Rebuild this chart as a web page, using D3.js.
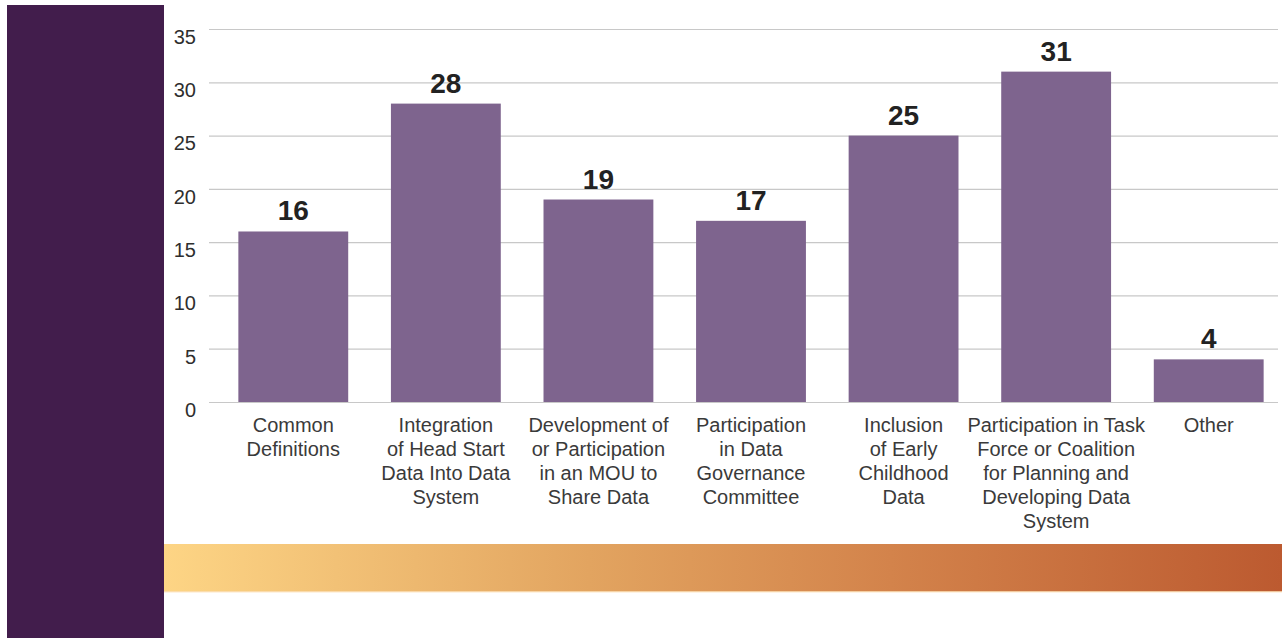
<!DOCTYPE html>
<html>
<head>
<meta charset="utf-8">
<script src="https://cdn.jsdelivr.net/npm/d3@7"></script>
<style>
  body { margin: 0; background: #fff; }
  svg text { font-family: "Liberation Sans", Arial, sans-serif; }
</style>
</head>
<body>
<svg id="chart"></svg>
<script>
const categories = [
  "Common\nDefinitions",
  "Integration\nof Head Start\nData Into Data\nSystem",
  "Development of\nor Participation\nin an MOU to\nShare Data",
  "Participation\nin Data\nGovernance\nCommittee",
  "Inclusion\nof Early\nChildhood\nData",
  "Participation in Task\nForce or Coalition\nfor Planning and\nDeveloping Data\nSystem",
  "Other"
];
const values = [16, 28, 19, 17, 25, 31, 4];
const yTicks = [0, 5, 10, 15, 20, 25, 30, 35];

const w = 1282;
const h = 638;

const svg = d3.select("#chart").attr("width", w).attr("height", h);

// left sidebar
svg.append("rect")
  .attr("x", 7).attr("y", 5)
  .attr("width", 157).attr("height", h - 5)
  .attr("fill", "#421d4c");

// gradient band
const grad = svg.append("defs").append("linearGradient")
  .attr("id", "band").attr("x1", "0").attr("x2", "1");
[["0%", "#fdd585"], ["38%", "#e2a460"], ["65%", "#d3834b"], ["100%", "#bc5a30"]]
  .forEach(s => grad.append("stop").attr("offset", s[0]).attr("stop-color", s[1]));

svg.append("rect")
  .attr("x", 164).attr("y", 544)
  .attr("width", w - 164).attr("height", 48)
  .attr("fill", "url(#band)");
svg.append("rect")
  .attr("x", 164).attr("y", 591)
  .attr("width", w - 164).attr("height", 1.5)
  .attr("fill", "#fbe0b8").attr("opacity", 0.8);

const x = d3.scaleBand()
  .domain(categories)
  .range([217, 1285])
  .paddingInner(0.28)
  .paddingOuter(0.14);

const y = d3.scaleLinear().domain([0, 35]).range([402, 29]);

const gridLeft = 209, gridRight = 1278;

const yAxis = d3.axisLeft(y)
  .tickValues(yTicks)
  .tickSize(-(gridRight - gridLeft))
  .tickPadding(13)
  .tickFormat(d3.format("d"));

const yg = svg.append("g")
  .attr("transform", `translate(${gridLeft},0)`)
  .call(yAxis);
yg.select(".domain").remove();
yg.selectAll(".tick line").attr("stroke", "#c8c8c8").attr("stroke-width", 1.2);
yg.selectAll(".tick text")
  .attr("dy", "0.72em")
  .attr("font-size", 20)
  .attr("fill", "#2e2e2e");

// bars
svg.selectAll(".bar")
  .data(values)
  .enter()
  .append("rect")
  .attr("class", "bar")
  .attr("x", (d, i) => x(categories[i]))
  .attr("y", d => y(d))
  .attr("width", x.bandwidth())
  .attr("height", d => y(0) - y(d))
  .attr("fill", "#7e648e");

// value labels
svg.selectAll(".val")
  .data(values)
  .enter()
  .append("text")
  .attr("class", "val")
  .attr("x", (d, i) => x(categories[i]) + x.bandwidth() / 2)
  .attr("y", d => y(d) - 11)
  .attr("text-anchor", "middle")
  .attr("font-size", 28)
  .attr("font-weight", "bold")
  .attr("fill", "#222")
  .text(d => d);

// category labels
const cat = svg.selectAll(".cat")
  .data(categories)
  .enter()
  .append("text")
  .attr("class", "cat")
  .attr("text-anchor", "middle")
  .attr("font-size", 20)
  .attr("fill", "#3a3a3a");

cat.selectAll("tspan")
  .data(d => d.split("\n").map(line => ({ line, c: d })))
  .enter()
  .append("tspan")
  .attr("x", d => x(d.c) + x.bandwidth() / 2)
  .attr("y", (d, i) => 432 + i * 24)
  .text(d => d.line);
</script>
</body>
</html>
